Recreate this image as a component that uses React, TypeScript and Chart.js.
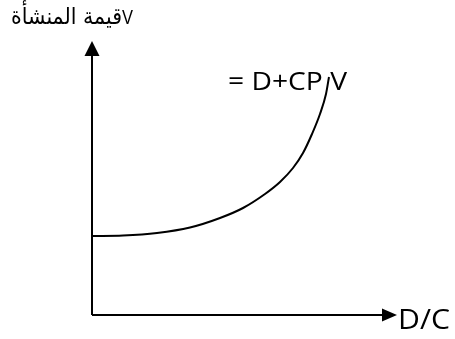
import React, { useEffect, useRef } from "react";
import { Chart, registerables } from "chart.js";

Chart.register(...registerables);

// Curve: value of the firm V against D/C (axis units 0..100)
const curveX = [0, 10.16, 21.31, 32.13, 41.97, 49.51, 56.72, 61.64, 65.9, 69.18, 72.13, 74.75, 76.72, 77.7];
const curveY = [28.83, 29.01, 29.93, 31.93, 35.4, 39.05, 44.16, 48.54, 53.65, 59.12, 66.06, 73.36, 80.66, 86.86];

const yAxisTitleArabic = "قيمة المنشأة";
const yAxisTitleSymbol = "V";
const xAxisTitle = "D/C";
const curveLabel = "= D+CP V";

const fitText = (
  ctx: CanvasRenderingContext2D,
  text: string,
  x: number,
  y: number,
  width: number,
  vScale = 1
) => {
  const w = ctx.measureText(text).width;
  ctx.save();
  ctx.translate(x, y);
  ctx.scale(width / w, vScale);
  ctx.fillText(text, 0, 0);
  ctx.restore();
};

const decorPlugin = {
  id: "decor",
  afterDraw(chart: any) {
    const ctx: CanvasRenderingContext2D = chart.ctx;
    const xs = chart.scales.x;
    const ys = chart.scales.y;
    const x0 = xs.getPixelForValue(0);
    const y0 = ys.getPixelForValue(0);
    const xEnd = xs.getPixelForValue(100);
    const yTop = ys.getPixelForValue(100);
    ctx.save();
    ctx.strokeStyle = "#000";
    ctx.fillStyle = "#000";
    ctx.lineWidth = 2;
    ctx.beginPath();
    ctx.moveTo(x0, y0);
    ctx.lineTo(x0, yTop + 8);
    ctx.moveTo(x0, y0);
    ctx.lineTo(xEnd - 8, y0);
    ctx.stroke();
    // arrow heads
    ctx.beginPath();
    ctx.moveTo(x0, yTop);
    ctx.lineTo(x0 - 7.5, yTop + 15);
    ctx.lineTo(x0 + 7.5, yTop + 15);
    ctx.closePath();
    ctx.fill();
    ctx.beginPath();
    ctx.moveTo(xEnd, y0);
    ctx.lineTo(xEnd - 15, y0 - 6.5);
    ctx.lineTo(xEnd - 15, y0 + 6.5);
    ctx.closePath();
    ctx.fill();

    // texts
    ctx.textBaseline = "alphabetic";
    ctx.textAlign = "left";
    ctx.font = '20px "Liberation Sans", Arial, sans-serif';
    fitText(ctx, yAxisTitleSymbol, x0 + 30, yTop - 17, 11);
    ctx.font = '20px "DejaVu Sans", "Noto Sans", sans-serif';
    fitText(ctx, yAxisTitleArabic, x0 - 81, yTop - 17, 111, 1.15);

    ctx.font = '25px "Open Sans", "Liberation Sans", sans-serif';
    fitText(ctx, curveLabel, x0 + 136, yTop + 49, 119);
    ctx.font = '27px "Open Sans", "Liberation Sans", sans-serif';
    fitText(ctx, xAxisTitle, xEnd + 1, y0 + 14, 52);
    ctx.restore();
  },
};

export default function App() {
  const ref = useRef<HTMLCanvasElement | null>(null);
  useEffect(() => {
    if (!ref.current) return;
    const chart = new Chart(ref.current, {
      type: "line",
      data: {
        datasets: [
          {
            data: curveX.map((x, i) => ({ x, y: curveY[i] })),
            borderColor: "#000",
            borderWidth: 2,
            pointRadius: 0,
            fill: false,
            cubicInterpolationMode: "monotone",
          },
        ],
      },
      options: {
        animation: false,
        responsive: false,
        maintainAspectRatio: false,
        layout: { padding: { left: 92, right: 58, top: 41, bottom: 24 } },
        plugins: { legend: { display: false }, tooltip: { enabled: false } },
        scales: {
          x: { type: "linear", min: 0, max: 100, display: false },
          y: { type: "linear", min: 0, max: 100, display: false },
        },
      },
      plugins: [decorPlugin],
    });
    return () => chart.destroy();
  }, []);
  return (
    <div style={{ position: "fixed", left: 0, top: 0, width: 455, height: 339, background: "#fff" }}>
      <canvas ref={ref} width={455} height={339} style={{ width: 455, height: 339 }} />
    </div>
  );
}
